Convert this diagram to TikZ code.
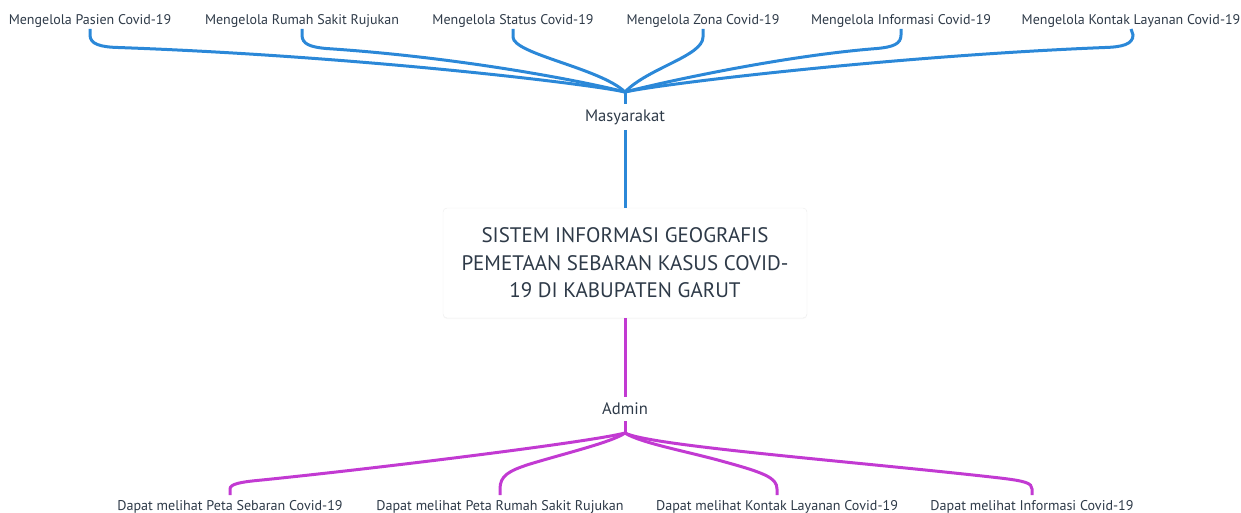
\documentclass[tikz,border=0pt]{standalone}
\usepackage{fontspec}
\setmainfont{PT Sans}
\usetikzlibrary{shadows}
\definecolor{txt}{HTML}{2E3A48}
\definecolor{bl}{HTML}{2B88D8}
\definecolor{pu}{HTML}{C23AD2}
\definecolor{boxline}{HTML}{EDEDED}
\tikzset{
  toplabel/.style={anchor=base,inner sep=0pt,outer sep=0pt,text depth=4pt,font=\fontsize{14}{16}\selectfont,text=txt},
  botlabel/.style={anchor=base,inner sep=0pt,outer sep=0pt,text height=15pt,font=\fontsize{14.1}{16}\selectfont,text=txt},
  rolelabel/.style={inner sep=0pt,outer sep=0pt,font=\fontsize{16.6}{18}\selectfont,text=txt},
  titlebox/.style={draw=boxline,fill=white,rounded corners=4pt,minimum width=364pt,minimum height=110pt,align=center,font=\fontsize{21}{27.5}\selectfont,text=txt,drop shadow={opacity=0.06,shadow xshift=0pt,shadow yshift=-1pt}},
  bline/.style={draw=bl,line width=3pt},
  pline/.style={draw=pu,line width=3pt},
}
\begin{document}
\begin{tikzpicture}[x=1pt,y=-1pt]
\useasboundingbox (0,0) rectangle (1241,513);
% top labels
\node[toplabel] (c1) at (90,25) {Mengelola Pasien Covid-19};
\node[toplabel] (c2) at (302,25) {Mengelola Rumah Sakit Rujukan};
\node[toplabel] (c3) at (513,25) {Mengelola Status Covid-19};
\node[toplabel] (c4) at (703,25) {Mengelola Zona Covid-19};
\node[toplabel] (c5) at (901,25) {Mengelola Informasi Covid-19};
\node[toplabel] (c6) at (1131,25) {Mengelola Kontak Layanan Covid-19};
\coordinate (hubT) at (625,92);
\node[rolelabel,minimum height=26pt] (m) at (625,117) {Masyarakat};
\node[titlebox] (title) at (625,263) {SISTEM INFORMASI GEOGRAFIS\\PEMETAAN SEBARAN KASUS COVID-\\19 DI KABUPATEN GARUT};
\node[rolelabel,minimum height=24pt] (a) at (625,409) {Admin};
\coordinate (hubB) at (625,433);
% bottom labels
\node[botlabel] (s1) at (230,510) {Dapat melihat Peta Sebaran Covid-19};
\node[botlabel] (s2) at (500,510) {Dapat melihat Peta Rumah Sakit Rujukan};
\node[botlabel] (s3) at (777,510) {Dapat melihat Kontak Layanan Covid-19};
\node[botlabel] (s4) at (1032,510) {Dapat melihat Informasi Covid-19};
% top connectors
\draw[bline] (c1.south) -- (90,35) .. controls (90,44) and (100,47) .. (118,47.5) .. controls (357,56) and (590,84) .. (hubT);
\draw[bline] (c2.south) -- (302,35) .. controls (302,44) and (310,47) .. (326,48.5) .. controls (470,58) and (595,84) .. (hubT);
\draw[bline] (c3.south) -- (513,37) .. controls (513,54) and (600,68) .. (hubT);
\draw[bline] (c4.south) -- (703,37) .. controls (703,56) and (648,68) .. (hubT);
\draw[bline] (c5.south) -- (901,35) .. controls (901,44) and (893,47) .. (877,48.5) .. controls (780,56) and (655,84) .. (hubT);
\draw[bline] (c6.south) -- (1133,35) .. controls (1133,44) and (1123,47) .. (1105,47.5) .. controls (893,56) and (660,84) .. (hubT);
\draw[bline] (hubT) -- (m.north);
\draw[bline] (m.south) -- (title.north);
% bottom connectors
\draw[pline] (title.south) -- (a.north);
\draw[pline] (a.south) -- (hubB);
\draw[pline] (hubB) .. controls (590,442) and (380,468) .. (262,480) .. controls (240,482) and (230,484) .. (230,489) -- (s1.north);
\draw[pline] (hubB) .. controls (612,442) and (570,452) .. (530,464) .. controls (508,471) and (500,476) .. (500,489) -- (s2.north);
\draw[pline] (hubB) .. controls (640,443) and (690,452) .. (725,462) .. controls (765,473) and (777,478) .. (777,489) -- (s3.north);
\draw[pline] (hubB) .. controls (650,446) and (860,462) .. (1000,478) .. controls (1025,481) and (1032,483) .. (1032,489) -- (s4.north);
\end{tikzpicture}
\end{document}
